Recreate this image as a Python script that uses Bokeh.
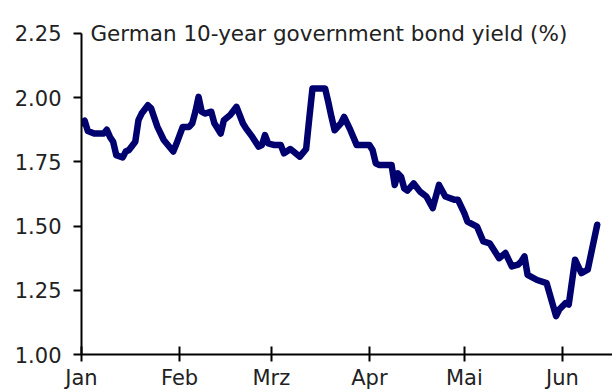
import pandas as pd
from bokeh.plotting import figure
from bokeh.models import Range1d, FixedTicker, Label
from bokeh.embed import file_html
from bokeh.resources import INLINE

# ---- data ----
dates = [
    "2012-01-01", "2012-01-02", "2012-01-03", "2012-01-05", "2012-01-08", "2012-01-09",
    "2012-01-10", "2012-01-11", "2012-01-12", "2012-01-14", "2012-01-15", "2012-01-16",
    "2012-01-18", "2012-01-19", "2012-01-20", "2012-01-22", "2012-01-23", "2012-01-25",
    "2012-01-27", "2012-01-30", "2012-01-31", "2012-02-02", "2012-02-04", "2012-02-05",
    "2012-02-06", "2012-02-07", "2012-02-08", "2012-02-09", "2012-02-11", "2012-02-12",
    "2012-02-14", "2012-02-15", "2012-02-17", "2012-02-19", "2012-02-21", "2012-02-22",
    "2012-02-24", "2012-02-26", "2012-02-27", "2012-02-28", "2012-02-29", "2012-03-02",
    "2012-03-04", "2012-03-05", "2012-03-07", "2012-03-08", "2012-03-10", "2012-03-12",
    "2012-03-13", "2012-03-14", "2012-03-18", "2012-03-19", "2012-03-20", "2012-03-21",
    "2012-03-23", "2012-03-24", "2012-03-26", "2012-03-28", "2012-03-30", "2012-04-01",
    "2012-04-02", "2012-04-03", "2012-04-04", "2012-04-08", "2012-04-09", "2012-04-10",
    "2012-04-11", "2012-04-12", "2012-04-13", "2012-04-15", "2012-04-17", "2012-04-19",
    "2012-04-21", "2012-04-23", "2012-04-25", "2012-04-28", "2012-04-29", "2012-05-01",
    "2012-05-02", "2012-05-05", "2012-05-07", "2012-05-09", "2012-05-12", "2012-05-14",
    "2012-05-16", "2012-05-18", "2012-05-19", "2012-05-20", "2012-05-21", "2012-05-24",
    "2012-05-27", "2012-05-30", "2012-05-31", "2012-06-02", "2012-06-03", "2012-06-05",
    "2012-06-07", "2012-06-09", "2012-06-12",
]
yields = [
    1.90, 1.91, 1.87, 1.86, 1.86, 1.875,
    1.847, 1.828, 1.776, 1.767, 1.79, 1.796,
    1.828, 1.912, 1.938, 1.97, 1.958, 1.886,
    1.835, 1.79, 1.82, 1.886, 1.886, 1.90,
    1.945, 2.003, 1.945, 1.938, 1.945, 1.90,
    1.86, 1.912, 1.932, 1.964, 1.90, 1.88,
    1.847, 1.809, 1.815, 1.854, 1.822, 1.815,
    1.815, 1.783, 1.80, 1.79, 1.77, 1.80,
    1.92, 2.035, 2.035, 1.983, 1.925, 1.873,
    1.90, 1.925, 1.873, 1.815, 1.815, 1.815,
    1.796, 1.744, 1.738, 1.738, 1.66, 1.705,
    1.692, 1.647, 1.638, 1.666, 1.634, 1.615,
    1.57, 1.66, 1.615, 1.602, 1.602, 1.55,
    1.517, 1.498, 1.44, 1.433, 1.375, 1.395,
    1.343, 1.35, 1.362, 1.382, 1.31, 1.29,
    1.278, 1.149, 1.175, 1.20, 1.194, 1.369,
    1.317, 1.33, 1.505,
]
month_starts = ["2012-01-01", "2012-02-01", "2012-03-01", "2012-04-01", "2012-05-01", "2012-06-01"]
month_labels = ["Jan", "Feb", "Mrz", "Apr", "Mai", "Jun"]
y_ticks = [1.00, 1.25, 1.50, 1.75, 2.00, 2.25]
title_text = "German 10-year government bond yield (%)"

FONT = "DejaVu Sans"
LINE_COLOR = "#00006e"

x = pd.to_datetime(dates)
x_start = pd.Timestamp("2012-01-01")
x_end = pd.Timestamp("2012-06-16 20:00")

p = figure(width=612, height=392, x_axis_type="datetime",
           output_backend="svg", toolbar_location=None,
           x_range=Range1d(x_start, x_end), y_range=Range1d(1.0, 2.339),
           min_border_left=81, min_border_right=0, min_border_top=10, min_border_bottom=37)
p.outline_line_color = None
p.xgrid.visible = False
p.ygrid.visible = False
p.background_fill_color = "white"
p.border_fill_color = "white"

p.line(x, yields, line_color=LINE_COLOR, line_width=6.5, line_join="round", line_cap="round")

# x axis
tick_ms = [pd.Timestamp(d).value / 1e6 for d in month_starts]
p.xaxis.ticker = FixedTicker(ticks=tick_ms)
p.xaxis.major_label_overrides = {t: lab for t, lab in zip(tick_ms, month_labels)}
p.xaxis.minor_tick_line_color = None
p.xaxis.major_tick_in = 8
p.xaxis.major_tick_out = 7
p.xaxis.major_label_standoff = 4

# y axis
p.yaxis.ticker = FixedTicker(ticks=y_ticks)
p.yaxis.bounds = (1.0, 2.25)
p.yaxis.major_label_overrides = {v: f"{v:.2f}" for v in y_ticks}
p.yaxis.minor_tick_line_color = None
p.yaxis.major_tick_in = 0
p.yaxis.major_tick_out = 8
p.yaxis.major_label_standoff = 12

for ax in (p.xaxis, p.yaxis):
    ax.axis_line_color = "black"
    ax.axis_line_width = 2
    ax.major_tick_line_color = "black"
    ax.major_tick_line_width = 2
    ax.major_label_text_font = FONT
    ax.major_label_text_font_size = "21px"
    ax.major_label_text_color = "#222222"

title = Label(x=pd.Timestamp("2012-01-03 20:00"), y=2.25, text=title_text,
              text_font=FONT, text_font_size="21.5px", text_color="#222222",
              text_baseline="alphabetic", text_align="left")
p.add_layout(title)

open("out.html", "w").write(file_html(p, INLINE))
